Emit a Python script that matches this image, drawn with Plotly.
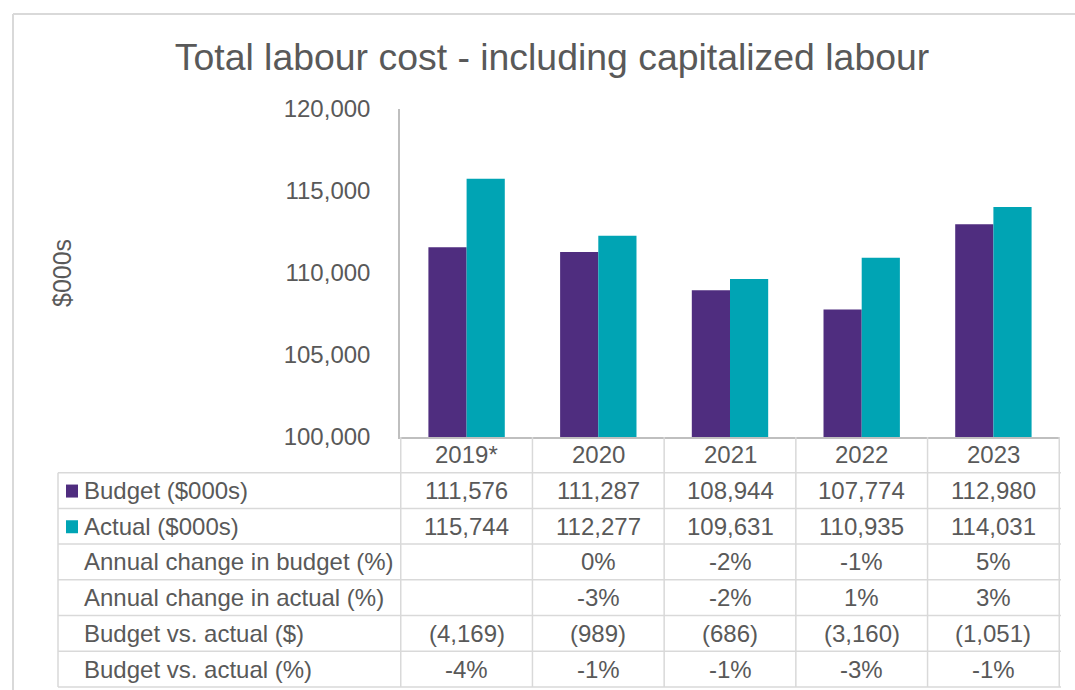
import plotly.graph_objects as go

W, H = 1075, 690

years = ["2019*", "2020", "2021", "2022", "2023"]
budget = [111576, 111287, 108944, 107774, 112980]
actual = [115744, 112277, 109631, 110935, 114031]

row_labels = [
    "Budget ($000s)",
    "Actual ($000s)",
    "Annual change in budget (%)",
    "Annual change in actual (%)",
    "Budget vs. actual ($)",
    "Budget vs. actual (%)",
]
chg_budget = ["", "0%", "-2%", "-1%", "5%"]
chg_actual = ["", "-3%", "-2%", "1%", "3%"]
diff_dollar = ["(4,169)", "(989)", "(686)", "(3,160)", "(1,051)"]
diff_pct = ["-4%", "-1%", "-1%", "-3%", "-1%"]

PURPLE = "#4F2D7F"
TEAL = "#00A4B4"
TXT = "#595959"
GRID = "#D9D9D9"
AXIS = "#BFBFBF"
FONT = "Liberation Sans, Arial, sans-serif"
FS = 24


def px(x):
    return x / W


def py(y):
    return 1 - y / H


fig = go.Figure()
fig.add_trace(go.Bar(x=years, y=budget, name="Budget ($000s)", marker=dict(color=PURPLE, line=dict(width=0))))
fig.add_trace(go.Bar(x=years, y=actual, name="Actual ($000s)", marker=dict(color=TEAL, line=dict(width=0))))

x0p, x1p = 400, 1060
ytop, ybot = 109, 437

shapes = []
annotations = []

# outer chart border
shapes.append(dict(type="line", xref="paper", yref="paper", x0=px(13), x1=1.0, y0=py(14), y1=py(14),
                   line=dict(color=GRID, width=2)))
shapes.append(dict(type="line", xref="paper", yref="paper", x0=px(13), x1=px(13), y0=py(14), y1=0,
                   line=dict(color=GRID, width=2)))

# table geometry
row_h = 35.7
header_top = ybot
header_bot = header_top + row_h
table_bot = header_top + row_h * 7
left_x = 58

# horizontal lines
for i in range(1, 8):
    y = header_top + row_h * i
    shapes.append(dict(type="line", xref="paper", yref="paper", x0=px(left_x), x1=px(x1p + 1),
                       y0=py(y), y1=py(y), line=dict(color=GRID, width=1.5)))
# vertical lines on category boundaries
for k in range(len(years) + 1):
    shapes.append(dict(type="line", xref="x", yref="paper", x0=k - 0.5, x1=k - 0.5,
                       y0=py(header_top), y1=py(table_bot), line=dict(color=GRID, width=1.5)))
shapes.append(dict(type="line", xref="paper", yref="paper", x0=px(left_x), x1=px(left_x),
                   y0=py(header_bot), y1=py(table_bot), line=dict(color=GRID, width=1.5)))

# legend keys
for r, col in enumerate([PURPLE, TEAL]):
    yc = header_bot + row_h * (r + 0.5)
    shapes.append(dict(type="rect", xref="paper", yref="paper", x0=px(66), x1=px(78),
                       y0=py(yc - 6), y1=py(yc + 7), fillcolor=col, line=dict(width=0)))

# header (categories)
for k, yr in enumerate(years):
    annotations.append(dict(x=k, y=py(header_top + row_h / 2), xref="x", yref="paper", text=yr,
                            showarrow=False, xanchor="center", yanchor="middle",
                            font=dict(family=FONT, size=FS, color=TXT)))

rows = [
    [f"{v:,}" for v in budget],
    [f"{v:,}" for v in actual],
    chg_budget,
    chg_actual,
    diff_dollar,
    diff_pct,
]
for r, (lab, vals) in enumerate(zip(row_labels, rows)):
    yc = py(header_bot + row_h * (r + 0.5))
    annotations.append(dict(x=px(82), y=yc, xref="paper", yref="paper", text=lab, showarrow=False,
                            xanchor="left", yanchor="middle", font=dict(family=FONT, size=FS, color=TXT)))
    for k, v in enumerate(vals):
        if v:
            annotations.append(dict(x=k, y=yc, xref="x", yref="paper", text=v, showarrow=False,
                                    xanchor="center", yanchor="middle",
                                    font=dict(family=FONT, size=FS, color=TXT)))

# y-axis title
annotations.append(dict(x=px(62), y=py(273), xref="paper", yref="paper", text="$000s", textangle=-90,
                        showarrow=False, xanchor="center", yanchor="middle",
                        font=dict(family=FONT, size=25, color=TXT)))

fig.update_layout(
    width=W, height=H, autosize=False,
    margin=dict(l=0, r=0, t=0, b=0, pad=0, autoexpand=False),
    paper_bgcolor="white", plot_bgcolor="white",
    showlegend=False,
    barmode="group", bargap=0.42, bargroupgap=0,
    title=dict(text="Total labour cost - including capitalized labour", x=px(552), xanchor="center",
               y=py(57), yanchor="middle", font=dict(family=FONT, size=37.4, color=TXT)),
    xaxis=dict(domain=[px(x0p), px(x1p)], showticklabels=False, showline=True, linecolor=AXIS,
               linewidth=1.5, ticks="", showgrid=False, zeroline=False, fixedrange=True, automargin=False),
    yaxis=dict(domain=[py(ybot), py(ytop)], range=[100000, 120000], dtick=5000, tickformat=",",
               showline=True, linecolor=AXIS, linewidth=1.5, ticks="", showgrid=False, zeroline=False,
               tickfont=dict(family=FONT, size=FS, color=TXT), ticklabelstandoff=23, automargin=False),
    shapes=shapes,
    annotations=annotations,
)

fig.write_html("out.html")
